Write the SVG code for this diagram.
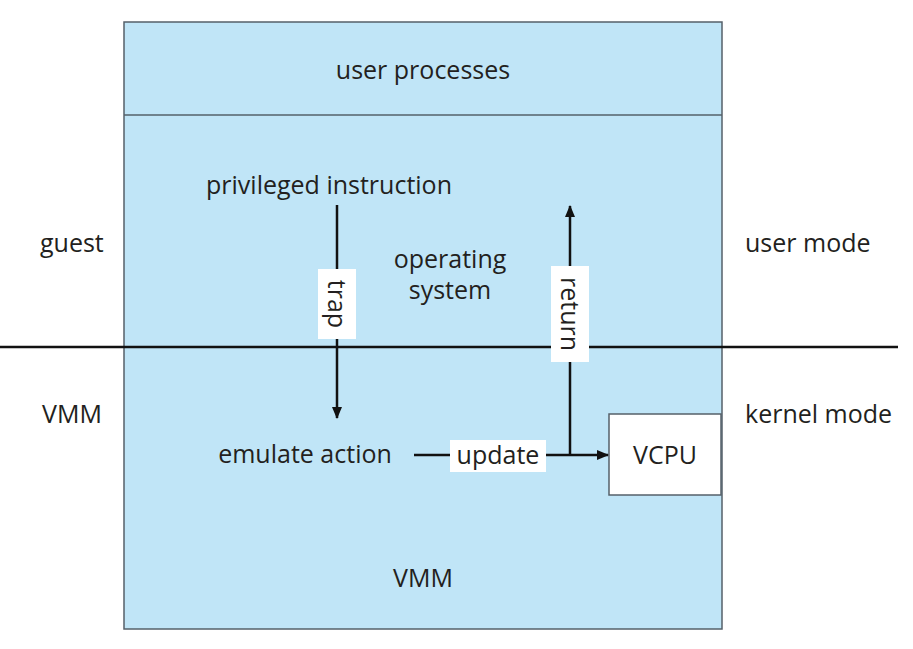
<svg xmlns="http://www.w3.org/2000/svg" width="913" height="649" viewBox="0 0 913 649">
<style>
text{font-family:"Open Sans","Liberation Sans",sans-serif;font-size:25px;fill:#231f20}
.c{text-anchor:middle}
.box{fill:#c0e5f7;stroke:#55606a;stroke-width:1.5}
.w{fill:#ffffff}
.ln{stroke:#111;stroke-width:2.5;fill:none}
</style>
<defs>
<marker id="a" viewBox="0 0 12 10" refX="11" refY="5" markerWidth="12" markerHeight="10" orient="auto" markerUnits="userSpaceOnUse"><path d="M0,0 L12,5 L0,10 Z" fill="#111"/></marker>
</defs>
<g id="guest-box">
<rect class="box" x="124" y="22" width="598" height="607"/>
<line x1="124" y1="115" x2="722" y2="115" stroke="#55606a" stroke-width="1.5"/>
</g>
<g id="user-processes"><text class="c" x="423" y="79">user processes</text></g>
<g id="operating-system"><text class="c" x="450" y="268">operating</text><text class="c" x="450" y="299">system</text></g>
<g id="privileged-instruction"><text class="c" x="329" y="194">privileged instruction</text></g>
<g id="emulate-action"><text class="c" x="305" y="463">emulate action</text></g>
<g id="vmm"><text class="c" x="423" y="587">VMM</text></g>
<g id="vcpu"><rect x="609" y="414" width="112" height="81" fill="#fff" stroke="#55606a" stroke-width="1.5"/><text class="c" x="665" y="464">VCPU</text></g>
<g id="side-labels">
<text x="40" y="252">guest</text>
<text x="42" y="423">VMM</text>
<text x="745" y="252">user mode</text>
<text x="745" y="423">kernel mode</text>
</g>
<g id="connectors">
<line class="ln" x1="0" y1="347" x2="898" y2="347"/>
<line class="ln" x1="337" y1="205" x2="337" y2="418" marker-end="url(#a)"/>
<polyline class="ln" points="414,455 608,455" marker-end="url(#a)"/>
<line class="ln" x1="570" y1="455" x2="570" y2="206" marker-end="url(#a)"/>
<rect class="w" x="318" y="269" width="38" height="70"/>
<text class="c" transform="translate(337,304) rotate(90)" y="9">trap</text>
<rect class="w" x="551" y="266" width="38" height="96"/>
<text class="c" transform="translate(570,314) rotate(90)" y="9">return</text>
<rect class="w" x="450" y="440" width="96" height="32"/>
<text class="c" x="498" y="464">update</text>
</g>
</svg>
